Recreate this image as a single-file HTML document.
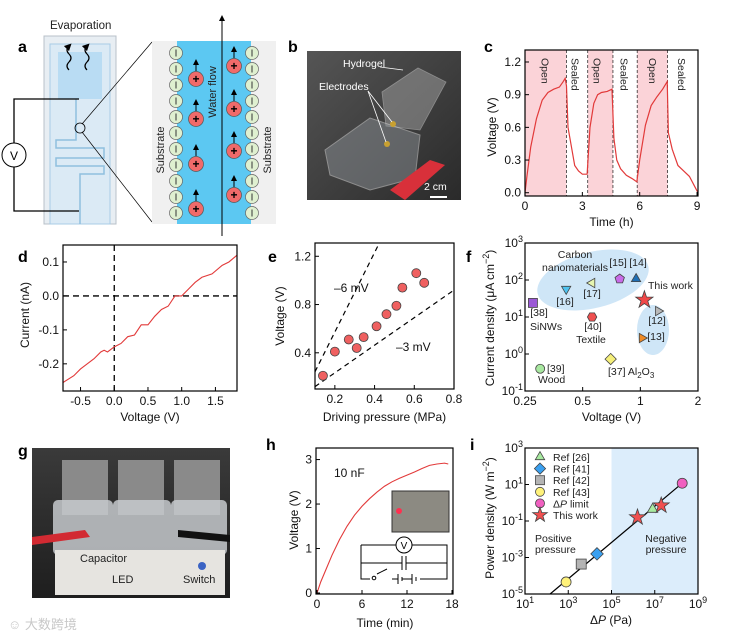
<!DOCTYPE html>
<html><head><meta charset="utf-8"><style>
html,body{margin:0;padding:0;background:#fff;}
svg{display:block;font-family:"Liberation Sans",Arial,sans-serif;}
.t{font-size:12px;fill:#111;}
.s{font-size:10.5px;fill:#222;}
.pl{font-size:16px;font-weight:bold;fill:#000;}
</style></head><body>
<svg id="fig" width="735" height="637" viewBox="0 0 735 637" xmlns="http://www.w3.org/2000/svg">
<defs>
<marker id="ah" viewBox="0 0 10 10" refX="5" refY="5" markerWidth="6" markerHeight="6" orient="auto-start-reverse"><path d="M0,0 L10,5 L0,10 z" fill="#000"/></marker>
<linearGradient id="bgPhoto" x1="0" y1="0" x2="1" y2="1"><stop offset="0" stop-color="#555"/><stop offset="1" stop-color="#2a2a2a"/></linearGradient>
<linearGradient id="gPhoto" x1="0" y1="0" x2="0" y2="1"><stop offset="0" stop-color="#3a3a3a"/><stop offset="1" stop-color="#1e1e1e"/></linearGradient>
</defs>

<!-- Panel a -->
<g>
<text class="pl" x="18" y="52">a</text>
<text x="50" y="29" font-size="11.5" fill="#222">Evaporation</text>
<rect x="44" y="36" width="72" height="188" fill="#e8eef3" stroke="#b8c0c8"/>
<rect x="50" y="44" width="60" height="180" fill="#dbeaf5" stroke="#a8cce6"/>
<rect x="58" y="52" width="44" height="47" fill="#b9dcf3"/>
<path d="M76,99 V140 H56 V148 H104 V158 H56 V166 H104 V174 H80 V224" fill="none" stroke="#8fbfdf" stroke-width="1.5"/>
<path d="M69,70 q-4,-4 0,-8 q4,-4 0,-8 q-4,-4 0,-8" fill="none" stroke="#000" stroke-width="1.2" marker-end="url(#ah)"/>
<path d="M87,70 q-4,-4 0,-8 q4,-4 0,-8 q-4,-4 0,-8" fill="none" stroke="#000" stroke-width="1.2" marker-end="url(#ah)"/>
<path d="M79,99 H14 V211 H79" fill="none" stroke="#000" stroke-width="1.3"/>
<circle cx="14" cy="155" r="12" fill="#fff" stroke="#000"/>
<text x="14" y="160" text-anchor="middle" font-size="12">V</text>
<circle cx="80" cy="128" r="5" fill="none" stroke="#000" stroke-width="0.8"/>
<line x1="82" y1="124" x2="152" y2="42" stroke="#000" stroke-width="0.7"/>
<line x1="82" y1="132" x2="152" y2="222" stroke="#000" stroke-width="0.7"/>
<rect x="152" y="41" width="124" height="183" fill="#f0f0f0"/>
<rect x="177" y="41" width="74" height="183" fill="#5cc8f2"/>
<line x1="222" y1="236" x2="222" y2="18" stroke="#000" stroke-width="1" marker-end="url(#ah)"/>
<g id="ions"></g>
<text transform="translate(216,92) rotate(-90)" text-anchor="middle" font-size="11" fill="#222">Water flow</text>
<text transform="translate(164,150) rotate(-90)" text-anchor="middle" font-size="11" fill="#222">Substrate</text>
<text transform="translate(271,150) rotate(-90)" text-anchor="middle" font-size="11" fill="#222">Substrate</text>
</g>

<!-- Panel b -->
<g>
<text class="pl" x="288" y="52">b</text>
<rect x="307" y="51" width="154" height="149" fill="url(#bgPhoto)"/>
<polygon points="382,92 418,68 446,82 420,130 386,126" fill="#9a9a9a" opacity="0.55" stroke="#ccc" stroke-width="0.8"/>
<polygon points="325,150 370,118 420,135 415,178 370,190 330,175" fill="#8a8f94" opacity="0.5" stroke="#ddd" stroke-width="1"/>
<path d="M390,190 L430,160 L445,165 L405,200 Z" fill="#d8303a"/>
<circle cx="393" cy="124" r="3" fill="#c8a030"/><circle cx="387" cy="144" r="3" fill="#c8a030"/>
<line x1="368" y1="91" x2="392" y2="122" stroke="#fff" stroke-width="0.8"/><line x1="368" y1="91" x2="386" y2="142" stroke="#fff" stroke-width="0.8"/>
<line x1="380" y1="67" x2="403" y2="70" stroke="#fff" stroke-width="0.8"/>
<text x="343" y="67" font-size="10.5" fill="#fff">Hydrogel</text>
<text x="319" y="90" font-size="10.5" fill="#fff">Electrodes</text>
<text x="424" y="190" font-size="10.5" fill="#fff">2 cm</text>
<line x1="430" y1="197" x2="447" y2="197" stroke="#fff" stroke-width="2"/>
</g>

<g id="pc">
<text class="pl" x="484" y="52">c</text>
</g>
<g id="pd">
<text class="pl" x="18" y="262">d</text>
</g>
<g id="pe">
<text class="pl" x="268" y="262">e</text>
</g>
<g id="pf">
<text class="pl" x="466" y="262">f</text>
</g>

<!-- Panel g -->
<g>
<text class="pl" x="18" y="456">g</text>
<rect x="32" y="448" width="198" height="150" fill="url(#gPhoto)"/>
<rect x="62" y="460" width="46" height="55" fill="#8a8a8a"/><rect x="118" y="460" width="46" height="55" fill="#8a8a8a"/><rect x="174" y="460" width="46" height="55" fill="#8a8a8a"/>
<rect x="53" y="500" width="60" height="55" rx="5" fill="#c6c9cc" opacity="0.85"/><rect x="113" y="500" width="58" height="55" rx="5" fill="#c6c9cc" opacity="0.85"/><rect x="171" y="500" width="56" height="55" rx="5" fill="#c6c9cc" opacity="0.85"/>
<rect x="55" y="550" width="170" height="45" fill="#e6e4e0"/>
<path d="M32,537 L85,530 L90,537 L32,545 Z" fill="#d22a32"/>
<path d="M178,530 L230,535 L230,542 L178,537 Z" fill="#111"/>
<circle cx="202" cy="566" r="4" fill="#3b63c4"/>
<text x="80" y="562" font-size="11" fill="#222">Capacitor</text>
<text x="112" y="583" font-size="11" fill="#222">LED</text>
<text x="183" y="583" font-size="11" fill="#222">Switch</text>
<text x="8" y="629" font-size="13" fill="#c8c8c8" font-family="'Liberation Sans','Noto Sans CJK SC',sans-serif">☺ 大数跨境</text>
</g>

<g id="ph">
<text class="pl" x="266" y="450">h</text>
</g>
<g id="pi">
<text class="pl" x="470" y="450">i</text>
</g>
</svg>

<script>
// ---- Panel c data ----
const cTime=[0,0.1,0.3,0.6,0.9,1.2,1.5,1.8,2.0,2.1,2.17,2.25,2.4,2.6,2.8,3.0,3.25,3.4,3.6,3.8,4.0,4.3,4.55,4.65,4.8,5.0,5.3,5.6,5.85,6.0,6.3,6.6,6.9,7.2,7.44,7.5,7.7,8.0,8.3,8.6,8.9,9.05];
const cVolt=[0,0.15,0.42,0.68,0.85,0.92,0.95,0.97,1.02,1.05,0.98,0.6,0.45,0.25,0.2,0.17,0.17,0.6,0.82,0.9,0.92,0.93,0.95,0.5,0.3,0.22,0.16,0.13,0.1,0.3,0.62,0.8,0.88,0.95,1.02,0.55,0.4,0.25,0.2,0.15,0.05,0];
const cOpenStart=[0,3.28,5.87];
const cOpenEnd=[2.17,4.6,7.46];
const cSwitch=[2.17,3.28,4.6,5.87,7.46];
const cLabels=["Open","Sealed","Open","Sealed","Open","Sealed"];
const cLabelPos=[1.06,2.65,3.8,5.2,6.7,8.2];
const cXTicks=[0,3,6,9];
const cYTicks=[0,0.3,0.6,0.9,1.2];
// ---- Panel d data ----
const dVolt=[-0.76,-0.6,-0.5,-0.4,-0.3,-0.2,-0.15,-0.1,0,0.1,0.2,0.3,0.4,0.5,0.6,0.7,0.8,0.9,1.0,1.1,1.2,1.3,1.45,1.6,1.7,1.82];
const dCurr=[-0.255,-0.235,-0.215,-0.2,-0.185,-0.165,-0.16,-0.165,-0.15,-0.14,-0.12,-0.115,-0.085,-0.085,-0.06,-0.04,-0.03,0,0,0.02,0.04,0.055,0.065,0.09,0.1,0.12];
const dXTicks=[-0.5,0,0.5,1.0,1.5];
const dYTicks=[-0.2,-0.1,0,0.1];
// ---- Panel e data ----
const ePress=[0.14,0.2,0.27,0.31,0.345,0.41,0.46,0.51,0.54,0.61,0.65];
const eVolt=[0.21,0.41,0.51,0.44,0.53,0.62,0.72,0.79,0.94,1.06,0.98];
const eLineHiP=[0.1,0.424];
const eLineHiV=[0.243,1.31];
const eLineLoP=[0.1,0.8];
const eLineLoV=[0.12,0.92];
const eXTicks=[0.2,0.4,0.6,0.8];
const eYTicks=[0.4,0.8,1.2];
// ---- Panel f data ----
const fNames=["[38]","[16]","[17]","[15]","[14]","This work","[12]","[13]","[40]","[37]","[39]"];
const fVolt=[0.275,0.41,0.56,0.78,0.95,1.05,1.24,1.02,0.56,0.70,0.30];
const fCurr=[24,57,83,107,107,29,14.5,2.7,10,0.73,0.4];
const fShape=["square","tridown","trileft","pentagon","triup","star","triright","triright","hexagon","diamond","circle"];
const fColor=["#9b59d6","#4fc3f0","#e6f5b0","#c86be8","#1f6fb5","#f04848","#b8b8b8","#f08a24","#ef5050","#f5ef7a","#a8e8a0"];
const fXTicks=[0.25,0.5,1,2];
const fYExp=[-1,0,1,2,3];
// ---- Panel h data ----
const hTime=[0,0.5,1,2,3,4,5,6,7,8,9,10,11,12,13,14,15,16,17,17.5];
const hVolt=[0,0.25,0.45,0.85,1.2,1.5,1.75,1.95,2.12,2.27,2.4,2.5,2.58,2.65,2.72,2.8,2.87,2.9,2.92,2.9];
const hXTicks=[0,6,12,18];
const hYTicks=[0,1,2,3];
// ---- Panel i data ----
const iNames=["Ref [26]","Ref [41]","Ref [42]","Ref [43]","ΔP limit","This work"];
const iShape=["triup","diamond","square","circle","circle","star"];
const iColor=["#a8eaa0","#3aa0f0","#b4b4b4","#fff27a","#f060c0","#f05050"];
const iPtSeries=[3,2,1,5,0,5,4];
const iPtLogP=[2.9,3.6,4.33,6.2,6.9,7.3,8.27];
const iPtLogW=[-4.34,-3.36,-2.8,-0.8,-0.36,-0.15,1.07];
const iFitLogP=[2.16,8.27];
const iFitLogW=[-5,1.07];
const iXExp=[1,3,5,7,9];
const iYExp=[-5,-3,-1,1,3];

const NS="http://www.w3.org/2000/svg";
function mk(parent,tag,attrs,name,txt){const e=document.createElementNS(NS,tag);for(const k in attrs)e.setAttribute(k,attrs[k]);


if(txt!==undefined)e.textContent=txt;parent.appendChild(e);return e;}
function lin(d0,d1,r0,r1){return v=>r0+(v-d0)/(d1-d0)*(r1-r0);}
function logS(d0,d1,r0,r1){return v=>r0+(Math.log10(v)-Math.log10(d0))/(Math.log10(d1)-Math.log10(d0))*(r1-r0);}
function frame(g,L,T,R,B){mk(g,'rect',{x:L,y:T,width:R-L,height:B-T,fill:'none',stroke:'#000','stroke-width':1.2},'plot-frame');}
function xtick(g,x,B,T,label,sup){mk(g,'line',{x1:x,y1:B,x2:x,y2:B-4,stroke:'#000'},'x-tick');
 const t=mk(g,'text',{x:x,y:B+14,'text-anchor':'middle',class:'t'},'x-tick-label',sup===undefined?label:undefined);
 if(sup!==undefined){t.textContent=label;mk(t,'tspan',{dy:-5,'font-size':9},'tick-exponent',sup);}}
function ytick(g,y,L,label,sup){mk(g,'line',{x1:L,y1:y,x2:L+4,y2:y,stroke:'#000'},'y-tick');
 if(sup===undefined){mk(g,'text',{x:L-4,y:y+4,'text-anchor':'end',class:'t'},'y-tick-label',label);}
 else{const t=mk(g,'text',{x:L-2,y:y+4,'text-anchor':'end',class:'t'},'y-tick-label');t.textContent=label;mk(t,'tspan',{dy:-5,'font-size':9},'tick-exponent',sup);}}
function ylabel(g,x,y,txt){return mk(g,'text',{transform:`translate(${x},${y}) rotate(-90)`,'text-anchor':'middle',class:'t','font-size':13},'y-axis-title',txt);}
function marker(g,shape,x,y,r,fill,name){
 if(shape==='circle'){return mk(g,'circle',{cx:x,cy:y,r:r,fill:fill,stroke:'#444','stroke-width':0.8},name);}
 if(shape==='square'){return mk(g,'rect',{x:x-r,y:y-r,width:2*r,height:2*r,fill:fill,stroke:'#444','stroke-width':0.8},name);}
 let pts=[];const poly=(n,rot,rr)=>{for(let i=0;i<n;i++){const a=rot+i*2*Math.PI/n;pts.push([x+rr*Math.cos(a),y+rr*Math.sin(a)]);}};
 if(shape==='triup')poly(3,-Math.PI/2,r*1.2);
 if(shape==='tridown')poly(3,Math.PI/2,r*1.2);
 if(shape==='trileft')poly(3,Math.PI,r*1.2);
 if(shape==='triright')poly(3,0,r*1.2);
 if(shape==='pentagon')poly(5,-Math.PI/2,r*1.1);
 if(shape==='hexagon')poly(6,0,r*1.05);
 if(shape==='diamond')poly(4,-Math.PI/2,r*1.25);
 if(shape==='star'){for(let i=0;i<10;i++){const a=-Math.PI/2+i*Math.PI/5;const rr=i%2?r*0.55:r*1.4;pts.push([x+rr*Math.cos(a),y+rr*Math.sin(a)]);}}
 return mk(g,'polygon',{points:pts.map(p=>p[0].toFixed(1)+','+p[1].toFixed(1)).join(' '),fill:fill,stroke:'#444','stroke-width':0.8},name);}

(function(){const g=document.getElementById('ions');
 const gy=[53,69,85,101,117,133,149,165,181,197,213];
 gy.forEach(y=>{[176,252].forEach(x=>{mk(g,'circle',{cx:x,cy:y,r:6.5,fill:'#dff0d0',stroke:'#666','stroke-width':0.7},'anion');mk(g,'line',{x1:x,y1:y-3.5,x2:x,y2:y+3.5,stroke:'#333','stroke-width':1},'anion-sign');});});
 const rl=[79,119,164,209],rr=[66,109,151,195];
 const cat=(x,y)=>{mk(g,'line',{x1:x,y1:y-8,x2:x,y2:y-17,stroke:'#000','stroke-width':1,'marker-end':'url(#ah)'},'cation-arrow');
  mk(g,'circle',{cx:x,cy:y,r:7.5,fill:'#f06a6a',stroke:'#555','stroke-width':0.7},'cation');
  mk(g,'text',{x:x,y:y+4,'text-anchor':'middle','font-size':12,'font-weight':'bold',fill:'#000'},'cation-sign','+');};
 rl.forEach(y=>cat(196,y));rr.forEach(y=>cat(234,y));})();

(function(){const g=document.getElementById('pc');const L=525,R=698,T=50,B=196;
 const x=lin(0,9.05,L,R),y=lin(-0.03,1.31,B,T);
 cOpenStart.forEach((s,i)=>mk(g,'rect',{x:x(s),y:T,width:x(cOpenEnd[i])-x(s),height:B-T,fill:'#fbd3d8'},'open-period'));
 cSwitch.forEach(s=>mk(g,'line',{x1:x(s),y1:T,x2:x(s),y2:B,stroke:'#333','stroke-dasharray':'3,2','stroke-width':0.8},'switch-line'));
 cLabels.forEach((l,i)=>mk(g,'text',{transform:`translate(${x(cLabelPos[i])-4},58) rotate(90)`,'font-size':10.5,fill:'#222'},'state-label',l));
 mk(g,'polyline',{points:cTime.map((t,i)=>x(t)+','+y(cVolt[i])).join(' '),fill:'none',stroke:'#e23a3a','stroke-width':1.2},'voltage-trace');
 frame(g,L,T,R,B);
 cXTicks.forEach(v=>xtick(g,x(v),B,T,String(v)));
 cYTicks.forEach(v=>ytick(g,y(v),L,v.toFixed(1)));
 mk(g,'text',{x:(L+R)/2,y:226,'text-anchor':'middle',class:'t','font-size':13},'x-axis-title','Time (h)');
 ylabel(g,496,127,'Voltage (V)');})();

(function(){const g=document.getElementById('pd');const L=63,R=237,T=245,B=391;
 const x=lin(-0.76,1.82,L,R),y=lin(-0.28,0.15,B,T);
 mk(g,'line',{x1:L,y1:y(0),x2:R,y2:y(0),stroke:'#000','stroke-dasharray':'6,4','stroke-width':1.3},'zero-current-line');
 mk(g,'line',{x1:x(0),y1:T,x2:x(0),y2:B,stroke:'#000','stroke-dasharray':'6,4','stroke-width':1.3},'zero-voltage-line');
 mk(g,'polyline',{points:dVolt.map((v,i)=>x(v)+','+y(dCurr[i])).join(' '),fill:'none',stroke:'#e23a3a','stroke-width':1.1},'iv-curve');
 frame(g,L,T,R,B);
 dXTicks.forEach(v=>xtick(g,x(v),B,T,v.toFixed(1)));
 dYTicks.forEach(v=>ytick(g,y(v),L,v.toFixed(1)));
 mk(g,'text',{x:(L+R)/2,y:421,'text-anchor':'middle',class:'t','font-size':13},'x-axis-title','Voltage (V)');
 ylabel(g,29,315,'Current (nA)');})();

(function(){const g=document.getElementById('pe');const L=315,R=454,T=243,B=389;
 const x=lin(0.1,0.8,L,R),y=lin(0.1,1.31,B,T);
 mk(g,'line',{x1:x(eLineHiP[0]),y1:y(eLineHiV[0]),x2:x(eLineHiP[1]),y2:y(eLineHiV[1]),stroke:'#000','stroke-dasharray':'5,4','stroke-width':1.2},'fit-line-6mV');
 mk(g,'line',{x1:x(eLineLoP[0]),y1:y(eLineLoV[0]),x2:x(eLineLoP[1]),y2:y(eLineLoV[1]),stroke:'#000','stroke-dasharray':'5,4','stroke-width':1.2},'fit-line-3mV');
 ePress.forEach((p,i)=>mk(g,'circle',{cx:x(p),cy:y(eVolt[i]),r:4.5,fill:'#ef6060',stroke:'#444','stroke-width':0.8},'data-point'));
 frame(g,L,T,R,B);
 eXTicks.forEach(v=>xtick(g,x(v),B,T,v.toFixed(1)));
 eYTicks.forEach(v=>ytick(g,y(v),L,v.toFixed(1)));
 mk(g,'text',{x:334,y:292,class:'t'},'slope-label-6mV','–6 mV');
 mk(g,'text',{x:396,y:351,class:'t'},'slope-label-3mV','–3 mV');
 mk(g,'text',{x:(L+R)/2,y:421,'text-anchor':'middle',class:'t','font-size':13},'x-axis-title','Driving pressure (MPa)');
 ylabel(g,284,316,'Voltage (V)');})();

(function(){const g=document.getElementById('pf');const L=525,R=698,T=243,B=391;
 const x=logS(0.25,2,L,R),y=logS(0.1,1000,B,T);
 mk(g,'ellipse',{cx:593,cy:280,rx:57,ry:28,transform:'rotate(-14 593 280)',fill:'#cfe6f7'},'carbon-group-ellipse');
 mk(g,'ellipse',{cx:653,cy:330,rx:16,ry:25,fill:'#cfe6f7'},'group-ellipse-12-13');
 fNames.forEach((n,i)=>marker(g,fShape[i],x(fVolt[i]),y(fCurr[i]),fShape[i]==='star'?6.5:4.5,fColor[i],'point-'+n.replace(/[\[\] ]/g,'')));
 frame(g,L,T,R,B);
 fXTicks.forEach(v=>xtick(g,x(v),B,T,String(v)));
 fYExp.forEach(e=>ytick(g,y(Math.pow(10,e)),L,'10',String(e)));
 const lab=[["Carbon",575,258,'middle'],["nanomaterials",575,271,'middle'],["[15]",618,266,'middle'],["[14]",638,266,'middle'],["This work",648,289,'start'],["[16]",565,305,'middle'],["[17]",592,297,'middle'],["[38]",539,316,'middle'],["SiNWs",530,330,'start'],["[40]",593,330,'middle'],["Textile",591,343,'middle'],["[12]",657,324,'middle'],["[13]",656,340,'middle'],["[39]",547,372,'start'],["Wood",538,383,'start']];
 lab.forEach(l=>mk(g,'text',{x:l[1],y:l[2],'text-anchor':l[3],class:'s'},'point-annotation',l[0]));
 const t=mk(g,'text',{x:608,y:375,class:'s'},'point-annotation');t.textContent='[37] Al';mk(t,'tspan',{dy:3,'font-size':8},'subscript','2');mk(t,'tspan',{dy:-3},'text-part','O');mk(t,'tspan',{dy:3,'font-size':8},'subscript','3');
 mk(g,'text',{x:(L+R)/2,y:421,'text-anchor':'middle',class:'t','font-size':13},'x-axis-title','Voltage (V)');
 const yl=ylabel(g,494,318,'Current density (μA cm');mk(yl,'tspan',{dy:-5,'font-size':9},'exponent','−2');mk(yl,'tspan',{dy:5},'paren',')');})();

(function(){const g=document.getElementById('ph');const L=316,R=453,T=448,B=594;
 const x=lin(0,18,317,452),y=lin(0,3.26,593,T);
 mk(g,'polyline',{points:hTime.map((t,i)=>x(t)+','+y(hVolt[i])).join(' '),fill:'none',stroke:'#e23a3a','stroke-width':1.1},'charging-curve');
 frame(g,L,T,R,B);
 hXTicks.forEach(v=>xtick(g,x(v),B,T,String(v)));
 hYTicks.forEach(v=>ytick(g,y(v),L,String(v)));
 mk(g,'text',{x:334,y:477,class:'t'},'capacitance-label','10 nF');
 mk(g,'rect',{x:392,y:491,width:57,height:41,fill:'#8c8a82',stroke:'#333'},'inset-photo');
 mk(g,'circle',{cx:399,cy:511,r:3,fill:'#ff3050'},'led-glow');
 mk(g,'path',{d:'M361,545 H396 M412,545 H447 V579 H420 M361,545 V579 H370 M361,563 H402 M406,563 H447 M402,556 V570 M406,556 V570 M377,574 L387,569 M392,579 H398 M398,574 V584 M402,577 V581 M402,579 H412 M412,574 V584 M416,577 V581',fill:'none',stroke:'#000','stroke-width':1},'circuit-diagram');
 mk(g,'circle',{cx:374,cy:578,r:1.8,fill:'#fff',stroke:'#000'},'switch-pivot');
 mk(g,'circle',{cx:404,cy:545,r:8,fill:'#fff',stroke:'#000'},'inset-voltmeter');
 mk(g,'text',{x:404,y:549,'text-anchor':'middle','font-size':10},'inset-voltmeter-label','V');
 mk(g,'text',{x:385,y:627,'text-anchor':'middle',class:'t','font-size':13},'x-axis-title','Time (min)');
 ylabel(g,298,520,'Voltage (V)');})();

(function(){const g=document.getElementById('pi');const L=525,R=698,T=448,B=594;
 const x=v=>lin(1,9,L,R)(v),y=v=>lin(-5,3,B,T)(v);
 mk(g,'rect',{x:x(5),y:T,width:R-x(5),height:B-T,fill:'#dcedfb'},'negative-pressure-region');
 mk(g,'line',{x1:x(iFitLogP[0]),y1:y(iFitLogW[0]),x2:x(iFitLogP[1]),y2:y(iFitLogW[1]),stroke:'#000','stroke-width':1.2},'fit-line');
 iPtLogP.forEach((p,i)=>{const s=iPtSeries[i];marker(g,iShape[s],x(p),y(iPtLogW[i]),iShape[s]==='star'?6:5,iColor[s],'point-'+iNames[s].replace(/[\[\] ]/g,''));});
 frame(g,L,T,R,B);
 iXExp.forEach(e=>xtick(g,x(e),B,T,'10',String(e)));
 iYExp.forEach(e=>ytick(g,y(e),L,'10',String(e)));
 iNames.forEach((n,i)=>{const yy=457+i*11.6;marker(g,iShape[i],540,yy,iShape[i]==='star'?5.5:4.5,iColor[i],'legend-marker');
  if(n==='ΔP limit'){const t=mk(g,'text',{x:553,y:yy+4,class:'s'},'legend-label','Δ');mk(t,'tspan',{'font-style':'italic'},'legend-italic','P');mk(t,'tspan',{},'legend-rest',' limit');}
  else mk(g,'text',{x:553,y:yy+4,class:'s'},'legend-label',n);});
 mk(g,'text',{x:535,y:542,class:'s'},'positive-pressure-label','Positive');
 mk(g,'text',{x:535,y:553,class:'s'},'positive-pressure-label','pressure');
 mk(g,'text',{x:666,y:542,'text-anchor':'middle',class:'s'},'negative-pressure-label','Negative');
 mk(g,'text',{x:666,y:553,'text-anchor':'middle',class:'s'},'negative-pressure-label','pressure');
 const xt=mk(g,'text',{x:611,y:624,'text-anchor':'middle',class:'t','font-size':13},'x-axis-title','Δ');mk(xt,'tspan',{'font-style':'italic'},'axis-italic','P');mk(xt,'tspan',{},'axis-unit',' (Pa)');
 const yl=ylabel(g,494,518,'Power density (W m');mk(yl,'tspan',{dy:-5,'font-size':9},'exponent','−2');mk(yl,'tspan',{dy:5},'paren',')');})();
</script>
</body></html>
